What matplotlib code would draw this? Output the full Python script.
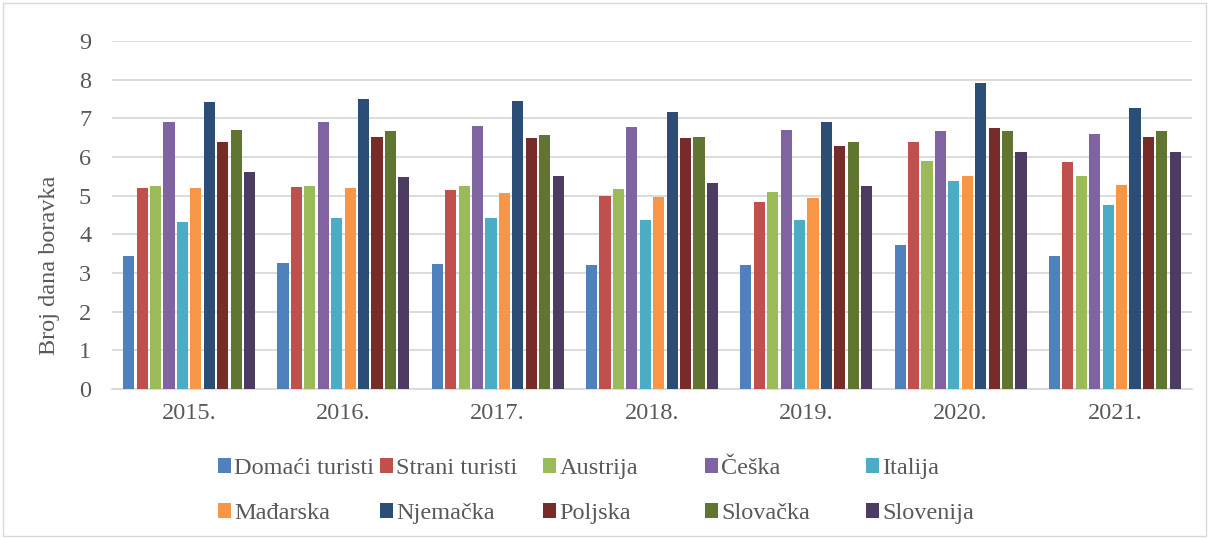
import matplotlib
matplotlib.use("Agg")
import matplotlib.pyplot as plt
import numpy as np
from matplotlib.patches import Rectangle

plt.rcParams['font.family'] = ['Liberation Serif', 'DejaVu Serif']

years = ["2015.", "2016.", "2017.", "2018.", "2019.", "2020.", "2021."]
series = ["Domaći turisti", "Strani turisti", "Austrija", "Češka", "Italija",
          "Mađarska", "Njemačka", "Poljska", "Slovačka", "Slovenija"]

domaci = [3.44, 3.27, 3.23, 3.20, 3.21, 3.72, 3.43]
strani = [5.19, 5.22, 5.14, 5.00, 4.84, 6.38, 5.88]
austrija = [5.25, 5.25, 5.24, 5.16, 5.09, 5.90, 5.52]
ceska = [6.91, 6.91, 6.81, 6.78, 6.71, 6.67, 6.60]
italija = [4.31, 4.43, 4.43, 4.38, 4.37, 5.38, 4.76]
madjarska = [5.19, 5.19, 5.06, 4.97, 4.93, 5.52, 5.28]
njemacka = [7.41, 7.49, 7.45, 7.17, 6.91, 7.91, 7.26]
poljska = [6.40, 6.53, 6.48, 6.50, 6.28, 6.76, 6.53]
slovacka = [6.69, 6.67, 6.57, 6.52, 6.40, 6.67, 6.67]
slovenija = [5.60, 5.48, 5.50, 5.33, 5.26, 6.14, 6.14]

values = [domaci, strani, austrija, ceska, italija,
          madjarska, njemacka, poljska, slovacka, slovenija]
colors = ["#4F81BD", "#C0504D", "#9BBB59", "#8064A2", "#4BACC6",
          "#F79646", "#2C4D75", "#772C2A", "#5F7530", "#4D3B62"]

text_col = "#595959"
grid_col = "#d9d9d9"
fs = 17.5

fig = plt.figure(figsize=(12.09, 5.38), dpi=100)
ax = fig.add_axes([112/1209, 1 - 389/538, (1192-112)/1209, (389-41)/538])

x = np.arange(len(years))
pitch = 0.087
width = 0.072
handles = []
for i, (vals, c) in enumerate(zip(values, colors)):
    off = (i - 4.5) * pitch
    b = ax.bar(x + off, vals, width, color=c, zorder=3, label=series[i])
    handles.append(b)

ax.set_xlim(-0.5, len(years) - 0.5)
ax.set_ylim(0, 9)
ax.set_yticks(range(10))
ax.set_xticks(x)
ax.set_xticklabels(years)
ax.yaxis.grid(True, color=grid_col, linewidth=1.3, zorder=0)
ax.tick_params(axis='both', length=0, labelsize=fs, colors=text_col)
ax.tick_params(axis='y', pad=15)
ax.tick_params(axis='x', pad=10)
for s in ['top', 'right', 'left']:
    ax.spines[s].set_visible(False)
ax.spines['bottom'].set_color(grid_col)
ax.spines['bottom'].set_linewidth(1.3)
ax.set_ylabel("Broj dana boravka", fontsize=fs, color=text_col)
ax.yaxis.set_label_coords(-0.048, 0.356)

# legend: 5 columns with equal spacing, two rows
col_x = [218, 380, 543, 705, 866]
for j in range(5):
    hs = [handles[j], handles[j + 5]]
    ls = [series[j], series[j + 5]]
    fig.legend(hs, ls, loc='upper left',
               bbox_to_anchor=(col_x[j] / 1209, 1 - 458 / 538),
               frameon=False, fontsize=fs, labelcolor=text_col,
               handlelength=0.55, handleheight=0.55, handletextpad=0.12,
               labelspacing=0.98, borderpad=0, borderaxespad=0)

fig.patches.append(Rectangle((3/1209, 0.004), 1203/1209, 0.99, transform=fig.transFigure,
                             fill=False, edgecolor=grid_col, linewidth=1))

fig.savefig("out.png", dpi=100)
